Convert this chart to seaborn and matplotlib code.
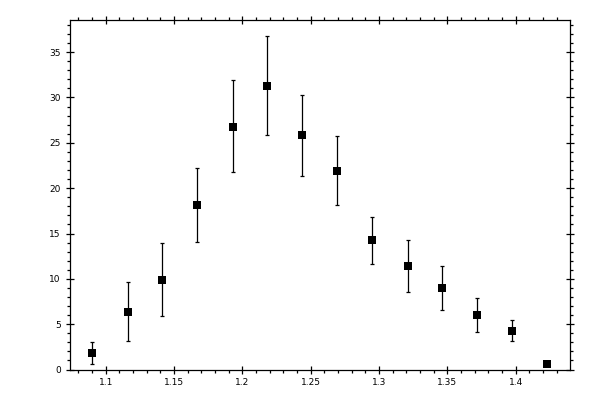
import matplotlib
matplotlib.use("Agg")
import matplotlib.pyplot as plt
import seaborn as sns
import pandas as pd
from matplotlib.ticker import MultipleLocator, FuncFormatter

# Data
x_vals = [1.090, 1.116, 1.141, 1.167, 1.193, 1.218, 1.244, 1.269, 1.295, 1.321, 1.346, 1.372, 1.397, 1.423]
y_vals = [1.8, 6.3, 9.85, 18.1, 26.8, 31.25, 25.85, 21.9, 14.25, 11.4, 8.95, 6.0, 4.2, 0.6]
y_low  = [0.6, 3.1, 5.9, 14.05, 21.75, 25.85, 21.3, 18.15, 11.65, 8.5, 6.55, 4.1, 3.1, 0.6]
y_high = [3.0, 9.6, 13.9, 22.2, 31.9, 36.75, 30.3, 25.7, 16.8, 14.25, 11.4, 7.85, 5.45, 0.6]

df = pd.DataFrame({"x": x_vals, "y": y_vals})

sns.set_style("ticks")
plt.rcParams['font.family'] = ['DejaVu Sans']

fig = plt.figure(figsize=(6, 4), dpi=100)
ax = fig.add_axes([70/600, 30/400, 500/600, 350.5/400])

err_lo = [y - l for y, l in zip(y_vals, y_low)]
err_hi = [h - y for y, h in zip(y_vals, y_high)]
ax.errorbar(x_vals, y_vals, yerr=[err_lo, err_hi], fmt='none', ecolor='black',
            elinewidth=0.9, capsize=1.6, capthick=0.9, zorder=2)
sns.scatterplot(data=df, x="x", y="y", marker='s', s=27, color='black',
                edgecolor='black', linewidth=0, ax=ax, zorder=3)

ax.set_xlim(1.0739, 1.4398)
ax.set_ylim(-0.05, 38.6)
ax.set_xlabel("")
ax.set_ylabel("")

ax.xaxis.set_major_locator(MultipleLocator(0.05))
ax.xaxis.set_minor_locator(MultipleLocator(0.01))
ax.yaxis.set_major_locator(MultipleLocator(5))
ax.yaxis.set_minor_locator(MultipleLocator(1))
ax.xaxis.set_major_formatter(FuncFormatter(lambda v, p: f"{v:g}"))
ax.yaxis.set_major_formatter(FuncFormatter(lambda v, p: f"{v:g}"))

for s in ax.spines.values():
    s.set_visible(True)
    s.set_linewidth(0.9)
    s.set_color('black')

ax.tick_params(which='major', direction='inout', length=5.5, width=0.9,
               top=True, right=True, labelsize=6.5, colors='black')
ax.tick_params(axis='x', which='major', pad=3)
ax.tick_params(axis='y', which='major', pad=4)
ax.tick_params(which='minor', direction='out', length=2.4, width=0.9,
               top=True, right=True, colors='black')

fig.savefig("out.png", dpi=100)
